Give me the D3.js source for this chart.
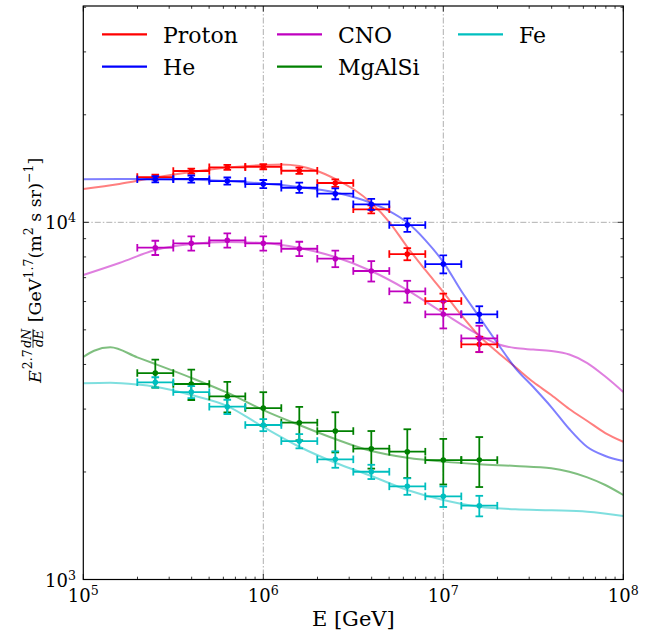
<!DOCTYPE html>
<html><head><meta charset="utf-8">
<script src="https://cdn.jsdelivr.net/npm/d3@7"></script>
<style>body{margin:0;background:#fff} svg{display:block} text{font-family:"DejaVu Serif",serif;fill:#000;white-space:pre}</style>
</head><body><svg id="c" width="650" height="630"></svg>
<script>
// ---------------- data ----------------
const binCenters = [2.512e5, 3.981e5, 6.310e5, 1.0e6, 1.585e6, 2.512e6, 3.981e6, 6.310e6, 1.0e7, 1.585e7];
const binLow     = [1.995e5, 3.162e5, 5.012e5, 7.943e5, 1.259e6, 1.995e6, 3.162e6, 5.012e6, 7.943e6, 1.259e7];
const binHigh    = [3.162e5, 5.012e5, 7.943e5, 1.259e6, 1.995e6, 3.162e6, 5.012e6, 7.943e6, 1.259e7, 1.995e7];

const protonFlux = [13390, 13920, 14256, 14310, 13945, 12883, 10874, 8151, 6020, 4555];
const protonErr  = [215, 225, 230, 230, 280, 310, 285, 320, 295, 225];
const heFlux     = [13195, 13220, 13050, 12800, 12498, 12025, 11230, 9827, 7640, 5526];
const heErr      = [265, 305, 300, 335, 410, 420, 395, 430, 445, 295];
const cnoFlux    = [8490, 8735, 8906, 8735, 8434, 7909, 7307, 6409, 5526, 4734];
const cnoErr     = [390, 400, 410, 400, 390, 420, 480, 450, 480, 400];
const mgFlux     = [3785, 3526, 3257, 3020, 2748, 2604, 2324, 2279, 2160, 2160];
const mgErr      = [340, 345, 320, 325, 295, 335, 280, 355, 315, 345];
const feFlux     = [3565, 3348, 3046, 2707, 2441, 2170, 2003, 1823, 1709, 1609];
const feErr      = [118, 130, 140, 105, 112, 115, 92, 97, 113, 106];

// model curves
const protonCurveE = [1e5, 1.585e5, 2.512e5, 3.981e5, 6.310e5, 1e6, 1.259e6, 1.585e6, 1.995e6, 2.512e6, 3.162e6, 3.981e6, 5.012e6, 6.310e6, 7.943e6, 1e7, 1.259e7, 1.585e7, 1.995e7, 2.512e7, 3.162e7, 3.981e7, 5.012e7, 6.310e7, 7.943e7, 1e8];
const protonCurve  = [12395, 12800, 13349, 13830, 14236, 14467, 14514, 14374, 13920, 13220, 12395, 11325, 10019, 8527, 7354, 6381, 5500, 4805, 4334, 3934, 3571, 3284, 3001, 2778, 2571, 2430];
const heCurveE = [1e5, 1.585e5, 2.512e5, 3.981e5, 6.310e5, 1e6, 1.585e6, 2.512e6, 3.981e6, 5.012e6, 6.310e6, 7.943e6, 1e7, 1.259e7, 1.585e7, 1.995e7, 2.512e7, 3.162e7, 3.981e7, 5.012e7, 6.310e7, 7.943e7, 1e8];
const heCurve  = [13195, 13220, 13220, 13177, 13050, 12842, 12555, 12117, 11325, 10756, 9987, 8920, 7739, 6422, 5430, 4594, 3909, 3458, 3040, 2638, 2349, 2217, 2147];
const cnoCurveE = [1e5, 1.585e5, 2.512e5, 3.981e5, 6.310e5, 1e6, 1.585e6, 2.512e6, 3.981e6, 6.310e6, 1e7, 1.585e7, 1.995e7, 2.512e7, 3.162e7, 3.981e7, 5.012e7, 6.310e7, 7.943e7, 1e8];
const cnoCurve  = [7118, 7690, 8365, 8695, 8806, 8750, 8472, 7996, 7306, 6463, 5573, 4836, 4562, 4446, 4403, 4361, 4264, 4037, 3700, 3349];
const mgCurveE = [1e5, 1.148e5, 1.413e5, 1.995e5, 2.512e5, 3.981e5, 6.310e5, 1e6, 1.585e6, 2.512e6, 3.981e6, 6.310e6, 1e7, 1.585e7, 2.512e7, 3.981e7, 5.012e7, 6.310e7, 7.943e7, 1e8];
const mgCurve  = [4196, 4370, 4467, 4188, 4011, 3670, 3334, 2981, 2707, 2473, 2289, 2193, 2138, 2102, 2079, 2048, 2003, 1932, 1839, 1724];
const feCurveE = [1e5, 1.413e5, 1.995e5, 2.512e5, 3.981e5, 6.310e5, 1e6, 1.585e6, 2.512e6, 3.981e6, 6.310e6, 1e7, 1.585e7, 2.512e7, 3.981e7, 6.310e7, 1e8];
const feCurve  = [3541, 3555, 3514, 3465, 3284, 3059, 2673, 2353, 2123, 1949, 1781, 1669, 1599, 1572, 1562, 1548, 1506];

const seriesNames  = ["Proton", "He", "CNO", "MgAlSi", "Fe"];
const seriesColors = ["#ff0000", "#0000ff", "#bf00bf", "#008000", "#00bfbf"];
const xDomain = [1e5, 1e8];
const yDomain = [1e3, 4.033e4];
const xTickExps = [5, 6, 7, 8];
const yTickExps = [3, 4];

// ---------------- chart ----------------
const svg = d3.select("#c");
const L = 83.3, R = 623.3, T = 6, B = 579.5;
const x = d3.scaleLog().domain(xDomain).range([L, R]);
const y = d3.scaleLog().domain(yDomain).range([B, T]);

const series = [
  {flux: protonFlux, err: protonErr, cE: protonCurveE, c: protonCurve},
  {flux: heFlux, err: heErr, cE: heCurveE, c: heCurve},
  {flux: cnoFlux, err: cnoErr, cE: cnoCurveE, c: cnoCurve},
  {flux: mgFlux, err: mgErr, cE: mgCurveE, c: mgCurve},
  {flux: feFlux, err: feErr, cE: feCurveE, c: feCurve}
];

// grid
const grid = svg.append("g");
[1e6, 1e7].forEach(v => grid.append("line").attr("x1", x(v)).attr("x2", x(v)).attr("y1", T).attr("y2", B)
  .attr("stroke", "#b0b0b0").attr("stroke-width", 1).attr("stroke-dasharray", "6,2,1.5,2"));
[1e4].forEach(v => grid.append("line").attr("x1", L).attr("x2", R).attr("y1", y(v)).attr("y2", y(v))
  .attr("stroke", "#b0b0b0").attr("stroke-width", 1).attr("stroke-dasharray", "6,2,1.5,2"));

svg.append("clipPath").attr("id", "clip").append("rect").attr("x", L).attr("y", T).attr("width", R - L).attr("height", B - T);
const plot = svg.append("g").attr("clip-path", "url(#clip)");

const line = d3.line().x(d => x(d[0])).y(d => y(d[1])).curve(d3.curveMonotoneX);

series.forEach((s, i) => {
  const col = seriesColors[i];
  plot.append("path").datum(s.cE.map((e, k) => [e, s.c[k]]))
    .attr("d", line).attr("fill", "none").attr("stroke", col).attr("stroke-width", 2).attr("stroke-opacity", 0.5);
});

series.forEach((s, i) => {
  const col = seriesColors[i];
  const g = plot.append("g").attr("stroke", col).attr("stroke-width", 1.8).attr("fill", "none");
  const cap = 3.8;
  s.flux.forEach((v, k) => {
    const cx = x(binCenters[k]), cy = y(v);
    const xl = x(binLow[k]), xh = x(binHigh[k]);
    const yl = y(v - s.err[k]), yh = y(v + s.err[k]);
    g.append("line").attr("x1", xl).attr("x2", xh).attr("y1", cy).attr("y2", cy);
    g.append("line").attr("x1", cx).attr("x2", cx).attr("y1", yl).attr("y2", yh);
    g.append("line").attr("x1", xl).attr("x2", xl).attr("y1", cy - cap).attr("y2", cy + cap);
    g.append("line").attr("x1", xh).attr("x2", xh).attr("y1", cy - cap).attr("y2", cy + cap);
    g.append("line").attr("x1", cx - cap).attr("x2", cx + cap).attr("y1", yl).attr("y2", yl);
    g.append("line").attr("x1", cx - cap).attr("x2", cx + cap).attr("y1", yh).attr("y2", yh);
    plot.append("circle").attr("cx", cx).attr("cy", cy).attr("r", 2.8).attr("fill", col);
  });
});

// ticks (inward, all four sides)
const ax = svg.append("g").attr("stroke", "#000").attr("stroke-width", 0.8);
function xTicks(vals, len) {
  vals.forEach(v => {
    const px = x(v);
    ax.append("line").attr("x1", px).attr("x2", px).attr("y1", B).attr("y2", B - len);
    ax.append("line").attr("x1", px).attr("x2", px).attr("y1", T).attr("y2", T + len);
  });
}
function yTicks(vals, len) {
  vals.forEach(v => {
    const py = y(v);
    ax.append("line").attr("x1", L).attr("x2", L + len).attr("y1", py).attr("y2", py);
    ax.append("line").attr("x1", R).attr("x2", R - len).attr("y1", py).attr("y2", py);
  });
}
const xMinor = [], yMinor = [];
for (let e = 5; e < 8; e++) for (let m = 2; m <= 9; m++) xMinor.push(m * Math.pow(10, e));
for (let e = 3; e < 5; e++) for (let m = 2; m <= 9; m++) { const v = m * Math.pow(10, e); if (v <= yDomain[1]) yMinor.push(v); }
xTicks(xTickExps.map(e => Math.pow(10, e)), 5.5);
xTicks(xMinor, 2.8);
yTicks(yTickExps.map(e => Math.pow(10, e)), 5.5);
yTicks(yMinor, 2.8);

// frame
svg.append("rect").attr("x", L).attr("y", T).attr("width", R - L).attr("height", B - T)
  .attr("fill", "none").attr("stroke", "#000").attr("stroke-width", 1.2);

// tick labels
const tfs = 18;
xTickExps.forEach(e => {
  const t = svg.append("text").attr("x", x(Math.pow(10, e))).attr("y", 602).attr("text-anchor", "middle").attr("font-size", tfs);
  t.append("tspan").text("10");
  t.append("tspan").attr("font-size", tfs * 0.7).attr("dy", -7).text(e);
});
yTickExps.forEach(e => {
  const t = svg.append("text").attr("x", 76).attr("y", y(Math.pow(10, e)) + 7).attr("text-anchor", "end").attr("font-size", tfs);
  t.append("tspan").text("10");
  t.append("tspan").attr("font-size", tfs * 0.7).attr("dy", -7).text(e);
});

// x label
svg.append("text").attr("x", (L + R) / 2).attr("y", 626).attr("text-anchor", "middle").attr("font-size", 21).text("E [GeV]");

// y label (rotated group)
const yl = svg.append("g").attr("transform", "translate(41,383) rotate(-90)");
const fs = 17.5, sfs = 12.5;
let cx = 0;
function put(txt, size, dy, italic) {
  const t = yl.append("text").attr("x", cx).attr("y", dy).attr("font-size", size).text(txt);
  if (italic) t.attr("font-style", "italic");
  cx += t.node().getComputedTextLength();
  return t;
}
put("E", fs, 0, true);
cx += 1;
put("2.7", sfs, -9, false);
cx += 1.5;
{
  const n = yl.append("text").attr("y", -10).attr("font-size", sfs).attr("font-style", "italic").text("dN");
  const d = yl.append("text").attr("y", 2).attr("font-size", sfs).attr("font-style", "italic").text("dE");
  const w = Math.max(n.node().getComputedTextLength(), d.node().getComputedTextLength());
  n.attr("x", cx + (w - n.node().getComputedTextLength()) / 2);
  d.attr("x", cx + (w - d.node().getComputedTextLength()) / 2);
  yl.append("line").attr("x1", cx).attr("x2", cx + w).attr("y1", -8).attr("y2", -8).attr("stroke", "#000").attr("stroke-width", 0.8);
  cx += w + 1;
}
put(" [GeV", fs, 0, false);
put("1.7", sfs, -8, false);
put("(m", fs, 0, false);
put("2", sfs, -8, false);
put(" s sr)", fs, 0, false);
put("\u22121", sfs, -8, false);
put("]", fs, 0, false);

// legend
const legCols = [102, 277, 458];
const legRows = [34.3, 66.7];
seriesNames.forEach((name, i) => {
  const col = Math.floor(i / 2), row = i % 2;
  const lx = legCols[col], ly = legRows[row];
  svg.append("line").attr("x1", lx).attr("x2", lx + 45).attr("y1", ly).attr("y2", ly)
    .attr("stroke", seriesColors[i]).attr("stroke-width", 2.2);
  svg.append("text").attr("x", lx + 61).attr("y", ly + 8.5).attr("font-size", 22).text(name);
});
</script>
</body></html>
